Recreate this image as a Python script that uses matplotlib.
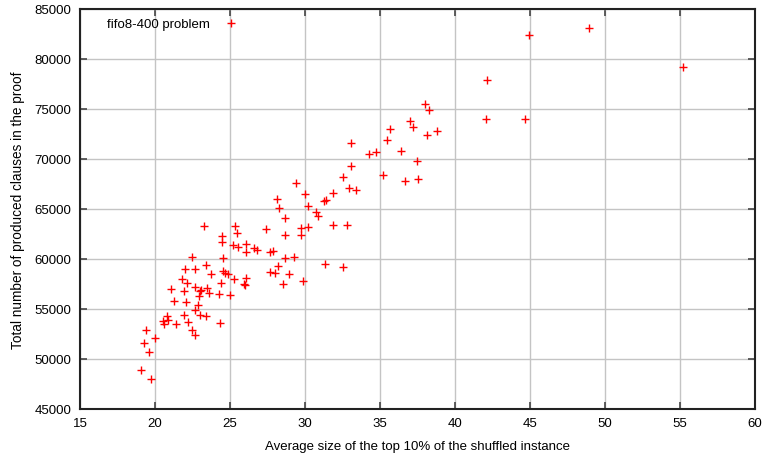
import numpy as np
import matplotlib.pyplot as plt

plt.rcParams['font.family'] = ['Liberation Sans', 'DejaVu Sans']

# average size of the top 10% of the shuffled instance
avg_size = [
    19.09, 19.73, 19.58, 19.27, 19.98, 19.38, 20.82, 20.87, 20.56, 20.60,
    21.38, 21.91, 22.20, 22.44, 22.69, 24.31, 23.00, 23.38, 21.27, 22.09,
    22.84, 22.69, 21.04, 21.96, 22.69, 23.00, 23.09, 22.93, 23.44, 23.58,
    24.29, 25.00, 24.42, 21.82, 22.13, 21.98, 22.69, 23.42, 23.75, 22.44,
    24.51, 24.67, 24.89, 24.56, 25.24, 26.09, 25.96, 26.00, 24.49, 24.49,
    23.27, 25.31, 25.47, 25.22, 25.53, 26.04, 26.09, 26.62, 26.78, 27.42,
    27.69, 27.89, 27.64, 28.02, 28.20, 28.93, 28.53, 29.89, 28.69, 29.29,
    28.69, 29.71, 29.71, 28.69, 28.11, 28.24, 29.42, 30.02, 30.21, 30.73,
    30.89, 30.21, 31.25, 31.38, 31.88, 31.84, 32.78, 31.31, 32.56, 32.51,
    32.93, 33.42, 33.09, 33.07, 34.27, 34.75, 35.22, 35.49, 35.67, 36.40,
    36.67, 37.51, 37.47, 36.98, 37.20, 37.98, 38.27, 38.15, 38.80, 42.13,
    42.07, 44.67, 44.93, 48.93, 55.20,
]

# total number of produced clauses in the proof
clauses = [
    48870, 48000, 50730, 51630, 52130, 52900, 54270, 53930, 53770, 53470,
    53470, 54370, 53700, 52930, 52430, 53600, 54400, 54300, 55830, 55670,
    55370, 54950, 56970, 56770, 57200, 56800, 56900, 56270, 57100, 56630,
    56530, 56430, 57570, 57970, 57630, 59000, 59030, 59450, 58500, 60180,
    58800, 58630, 58530, 60130, 58030, 58130, 57470, 57370, 62330, 61730,
    63350, 63270, 62570, 61370, 61230, 61530, 60730, 61070, 60870, 63030,
    60730, 60770, 58700, 58570, 59300, 58470, 57470, 57830, 60070, 60200,
    62430, 62400, 63070, 64130, 66000, 65130, 67600, 66550, 65270, 64730,
    64330, 63250, 65830, 65930, 66650, 63400, 63430, 59500, 59230, 68230,
    67070, 66900, 69280, 71630, 70500, 70730, 68430, 71870, 72970, 70800,
    67770, 67970, 69770, 73770, 73200, 75500, 74930, 72370, 72830, 77900,
    74000, 73970, 82400, 83070, 79170,
]

fig = plt.figure(figsize=(7.64, 4.60), dpi=100)
ax = fig.add_axes([80 / 764, 50 / 460, 675 / 764, 400 / 460])

ax.plot(avg_size, clauses, linestyle='none', marker='+', color='red',
        markersize=6, markeredgewidth=1.0, label='fifo8-400 problem')

ax.set_xlim(15, 60)
ax.set_ylim(45000, 85000)
ax.set_xticks(np.arange(15, 61, 5))
ax.set_yticks(np.arange(45000, 85001, 5000))

ax.grid(True, color='#c4c4c4', linewidth=1.0)
ax.set_axisbelow(True)
for s in ax.spines.values():
    s.set_color('#222222')
    s.set_linewidth(1.5)

ax.tick_params(direction='in', length=5, width=1.2, color='#444444',
               top=True, right=True, labelsize=9.5, pad=6)

ax.set_xlabel('Average size of the top 10% of the shuffled instance', fontsize=9.5, labelpad=8)
ax.set_ylabel('Total number of produced clauses in the proof', fontsize=9.8, labelpad=7)

ax.legend(loc='upper left', bbox_to_anchor=(0.026, 1.0), markerfirst=False,
          frameon=False, fontsize=9.5, handlelength=2.2, handletextpad=0.55,
          borderaxespad=0.3)

fig.savefig('out.png', dpi=100)
